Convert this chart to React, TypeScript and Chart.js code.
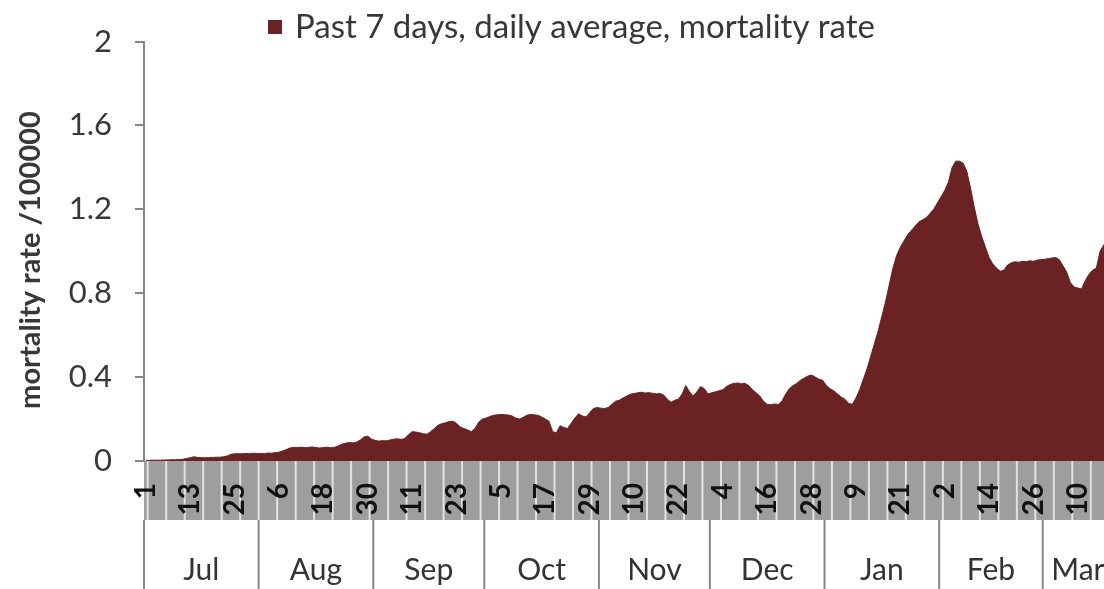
import React, { useEffect, useRef } from 'react';
import { Chart, registerables } from 'chart.js';

Chart.register(...registerables);

// ---- data ----
const MONTHS = ['Jul', 'Aug', 'Sep', 'Oct', 'Nov', 'Dec', 'Jan', 'Feb', 'Mar'];
const MONTH_DAYS = [31, 31, 30, 31, 30, 31, 31, 28, 19];

const JUL = [0.003, 0.003, 0.004, 0.004, 0.004, 0.005, 0.005, 0.006, 0.006, 0.007, 0.008, 0.012, 0.016, 0.02, 0.017, 0.016, 0.015, 0.016, 0.017, 0.018, 0.018, 0.02, 0.024, 0.032, 0.034, 0.035, 0.034, 0.036, 0.035, 0.037, 0.036];
const AUG = [0.036, 0.035, 0.038, 0.037, 0.04, 0.042, 0.048, 0.055, 0.062, 0.065, 0.064, 0.066, 0.063, 0.065, 0.067, 0.064, 0.062, 0.064, 0.066, 0.063, 0.065, 0.072, 0.08, 0.085, 0.088, 0.086, 0.09, 0.1, 0.115, 0.118, 0.105];
const SEP = [0.098, 0.095, 0.097, 0.096, 0.1, 0.104, 0.106, 0.103, 0.107, 0.125, 0.14, 0.138, 0.135, 0.13, 0.128, 0.14, 0.155, 0.17, 0.178, 0.182, 0.188, 0.19, 0.18, 0.162, 0.155, 0.148, 0.14, 0.155, 0.185, 0.2];
const OCT = [0.205, 0.212, 0.218, 0.22, 0.222, 0.221, 0.219, 0.215, 0.205, 0.2, 0.208, 0.218, 0.222, 0.22, 0.218, 0.21, 0.2, 0.19, 0.14, 0.135, 0.168, 0.16, 0.155, 0.18, 0.205, 0.225, 0.215, 0.21, 0.23, 0.25, 0.255];
const NOV = [0.252, 0.25, 0.255, 0.27, 0.285, 0.29, 0.3, 0.31, 0.318, 0.322, 0.325, 0.328, 0.324, 0.326, 0.323, 0.32, 0.322, 0.315, 0.295, 0.28, 0.29, 0.295, 0.32, 0.36, 0.33, 0.31, 0.33, 0.355, 0.345, 0.32];
const DEC = [0.325, 0.33, 0.335, 0.34, 0.355, 0.365, 0.37, 0.372, 0.368, 0.37, 0.36, 0.34, 0.325, 0.31, 0.285, 0.27, 0.268, 0.272, 0.27, 0.285, 0.32, 0.345, 0.36, 0.37, 0.385, 0.395, 0.405, 0.41, 0.4, 0.39, 0.385];
const JAN = [0.36, 0.345, 0.335, 0.32, 0.305, 0.295, 0.275, 0.27, 0.3, 0.34, 0.39, 0.44, 0.5, 0.56, 0.62, 0.69, 0.76, 0.84, 0.92, 0.98, 1.02, 1.05, 1.08, 1.1, 1.12, 1.14, 1.15, 1.16, 1.18, 1.2, 1.23];
const FEB = [1.26, 1.29, 1.33, 1.4, 1.43, 1.43, 1.42, 1.38, 1.3, 1.21, 1.13, 1.07, 1.02, 0.97, 0.94, 0.92, 0.905, 0.91, 0.935, 0.945, 0.95, 0.948, 0.952, 0.95, 0.955, 0.952, 0.958, 0.96];
const MAR = [0.962, 0.965, 0.968, 0.97, 0.96, 0.93, 0.9, 0.85, 0.83, 0.825, 0.82, 0.86, 0.89, 0.91, 0.92, 1.0, 1.03, 1.05, 1.06];

const SERIES_LABEL = 'Past 7 days, daily average, mortality rate';
const Y_TITLE = 'mortality rate /100000';
const Y_MIN = 0;
const Y_MAX = 2;
const Y_STEP = 0.4;
const DAY_LABEL_EVERY = 12;

const VALUES = [...JUL, ...AUG, ...SEP, ...OCT, ...NOV, ...DEC, ...JAN, ...FEB, ...MAR];
const CATEGORIES: string[] = [];
MONTH_DAYS.forEach((n) => {
  for (let d = 1; d <= n; d++) CATEGORIES.push(String(d));
});

// ---- style ----
const FILL = '#6b2222';
const AXIS_GRAY = '#868686';
const TEXT = '#383838';
const FONT = 'Lato, "Noto Sans", sans-serif';

const decorPlugin = {
  id: 'decor',
  beforeDraw(chart: any) {
    const { ctx, chartArea, scales } = chart;
    const x = scales.x;
    const n = CATEGORIES.length;
    const step = (x.getPixelForValue(n - 1) - x.getPixelForValue(0)) / (n - 1);
    const left = x.getPixelForValue(0) - step / 2;
    const right = x.getPixelForValue(n - 1) + step / 2;
    const top = chartArea.bottom;
    const bandH = 59;
    ctx.save();
    ctx.fillStyle = '#9e9e9e';
    ctx.fillRect(left, top, right - left, bandH);
    ctx.fillStyle = '#e2e2e2';
    for (let i = 1; i <= n; i += 5) {
      const px = left + i * step;
      ctx.fillRect(px - 1, top, 2, bandH);
    }
    ctx.restore();
  },
  afterDraw(chart: any) {
    const { ctx, chartArea, scales, height } = chart;
    const x = scales.x;
    const n = CATEGORIES.length;
    const step = (x.getPixelForValue(n - 1) - x.getPixelForValue(0)) / (n - 1);
    const left = x.getPixelForValue(0) - step / 2;
    const bandBottom = chartArea.bottom + 59;
    ctx.save();
    // month row
    ctx.strokeStyle = AXIS_GRAY;
    ctx.lineWidth = 2;
    let start = 0;
    MONTHS.forEach((name, m) => {
      const count = MONTH_DAYS[m];
      const x0 = left + start * step;
      const x1 = left + (start + count) * step;
      ctx.beginPath();
      ctx.moveTo(x0, bandBottom);
      ctx.lineTo(x0, height);
      ctx.stroke();
      ctx.fillStyle = '#333333';
      ctx.font = `30px ${FONT}`;
      ctx.textAlign = 'center';
      ctx.textBaseline = 'alphabetic';
      ctx.fillText(name, (x0 + x1) / 2, 580);
      start += count;
    });
    // legend
    ctx.fillStyle = FILL;
    ctx.fillRect(268, 20, 14, 14);
    ctx.fillStyle = TEXT;
    ctx.font = `33px ${FONT}`;
    ctx.textAlign = 'left';
    ctx.textBaseline = 'alphabetic';
    ctx.fillText(SERIES_LABEL, 295, 38);
    // y title
    ctx.translate(31, 260);
    ctx.rotate(-Math.PI / 2);
    ctx.font = `bold 29px ${FONT}`;
    ctx.textAlign = 'center';
    ctx.textBaseline = 'middle';
    ctx.fillText(Y_TITLE, 0, 0);
    ctx.restore();
  },
};

export default function App() {
  const ref = useRef<HTMLCanvasElement | null>(null);
  useEffect(() => {
    if (!ref.current) return;
    const chart = new Chart(ref.current, {
      type: 'line',
      data: {
        labels: CATEGORIES,
        datasets: [
          {
            label: SERIES_LABEL,
            data: VALUES,
            fill: 'origin',
            backgroundColor: FILL,
            borderColor: FILL,
            borderWidth: 1,
            pointRadius: 0,
            tension: 0,
          },
        ],
      },
      options: {
        animation: false,
        responsive: true,
        maintainAspectRatio: false,
        layout: { padding: { top: 25, right: 3, left: 0, bottom: 0 } },
        plugins: { legend: { display: false }, tooltip: { enabled: false } },
        scales: {
          x: {
            type: 'category',
            offset: true,
            grid: { display: false, drawTicks: false },
            border: { display: false },
            ticks: {
              autoSkip: false,
              maxRotation: 90,
              minRotation: 90,
              padding: 22,
              color: '#111111',
              font: { family: FONT, size: 28, weight: 'bold' },
              callback: (_v: any, i: number) => (i % DAY_LABEL_EVERY === 0 ? CATEGORIES[i] : ''),
            },
            afterFit: (s: any) => {
              s.height = 139;
              s.paddingLeft = 0;
              s.paddingRight = 0;
            },
          },
          y: {
            min: Y_MIN,
            max: Y_MAX,
            grid: { drawOnChartArea: false, drawTicks: true, tickLength: 9, color: AXIS_GRAY, lineWidth: 2 },
            border: { display: true, color: AXIS_GRAY, width: 2 },
            ticks: {
              stepSize: Y_STEP,
              padding: 23,
              color: TEXT,
              font: { family: FONT, size: 31 },
              callback: (v: any) => String(Number(Number(v).toFixed(1))),
            },
            afterFit: (s: any) => {
              s.width = 144;
            },
          },
        },
      },
      plugins: [decorPlugin],
    });
    return () => chart.destroy();
  }, []);
  return (
    <div style={{ position: 'absolute', left: 0, top: 0, width: 1104, height: 589, overflow: 'hidden', background: '#fff' }}>
      <div style={{ position: 'relative', width: 1116, height: 600 }}>
        <canvas ref={ref} />
      </div>
    </div>
  );
}
